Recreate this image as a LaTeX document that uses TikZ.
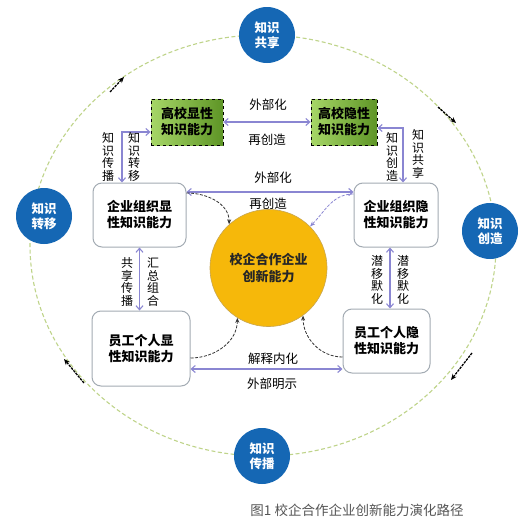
\documentclass[tikz,border=0pt]{standalone}
\usepackage{fontspec}
\setmainfont{Noto Sans CJK SC}
\usetikzlibrary{arrows.meta}
\definecolor{arrp}{HTML}{8A86D2}
\definecolor{boxgray}{HTML}{A3ABB3}
\definecolor{circblue}{HTML}{1567B4}
\definecolor{ellgreen}{HTML}{BFD48A}
\definecolor{coreorange}{HTML}{F6B80A}
\definecolor{coreedge}{HTML}{C8A650}
\definecolor{glight}{HTML}{A6D667}
\definecolor{gdark}{HTML}{5E9526}
\definecolor{capgray}{HTML}{555555}
\tikzset{
  rbox/.style={draw=boxgray, line width=1pt, rounded corners=9pt, fill=white, align=center,
    inner sep=0pt, font=\fontsize{13}{16}\selectfont\bfseries},
  gbox/.style={draw=black, dashed, line width=0.8pt, left color=glight, right color=gdark,
    align=center, inner sep=0pt, minimum width=70pt, minimum height=46pt,
    font=\fontsize{13}{16}\selectfont\bfseries},
  kcirc/.style={circle, fill=circblue, text=white, align=center, minimum size=56pt, inner sep=0pt,
    font=\fontsize{12.5}{15}\selectfont\bfseries},
  parr/.style={draw=arrp, line width=1.1pt, {Straight Barb[length=4pt,width=7pt]}-{Straight Barb[length=4pt,width=7pt]}},
  dcurve/.style={draw=black!80, line width=0.8pt, dash pattern=on 3pt off 1.5pt, -{Stealth[length=5pt,width=4pt]}},
  pcurve/.style={draw=arrp, line width=0.8pt, dash pattern=on 3pt off 1.5pt, -{Stealth[length=5pt,width=4pt]}},
  earr/.style={draw=black, line width=1.3pt, dash pattern=on 2.5pt off 1pt, -{Stealth[length=6pt,width=5pt]}},
  lbl/.style={font=\fontsize{12.5}{13}\selectfont, inner sep=0pt},
  vlbl/.style={font=\fontsize{12}{12.6}\selectfont, align=center, inner sep=0pt},
}
\begin{document}
\begin{tikzpicture}[x=1pt,y=-1pt]
\useasboundingbox[fill=white] (0,0) rectangle (531,522);

% big dashed ellipse
\draw[ellgreen, line width=1.1pt, dash pattern=on 4pt off 2.5pt] (263,245.5) ellipse [x radius=233, y radius=210.5];

% ellipse direction arrows
\coordinate (a1s) at (110,92);  \coordinate (a1e) at (124,77);
\coordinate (a2s) at (438,107); \coordinate (a2e) at (456,123);
\coordinate (a3s) at (472,353); \coordinate (a3e) at (451,380);
\coordinate (a4s) at (84,383);  \coordinate (a4e) at (64,359);
\draw[earr] (a1s) -- (a1e);
\draw[earr] (a2s) -- (a2e);
\draw[earr] (a3s) -- (a3e);
\draw[earr] (a4s) -- (a4e);

% small circles
\node[kcirc] (k1) at (267,35) {知识\\共享};
\node[kcirc] (k2) at (490,231) {知识\\创造};
\node[kcirc] (k3) at (262,456) {知识\\传播};
\node[kcirc] (k4) at (44,216) {知识\\转移};

% green boxes
\node[gbox, minimum width=72pt] (gx) at (187,122) {高校显性\\知识能力};
\node[gbox, minimum width=66pt] (gy) at (344,122) {高校隐性\\知识能力};

% rounded boxes
\node[rbox, minimum width=93pt, minimum height=64pt] (ex) at (139.5,215) {企业组织显\\性知识能力};
\node[rbox, minimum width=84pt, minimum height=64pt] (ey) at (396,215) {企业组织隐\\性知识能力};
\node[rbox, minimum width=98pt, minimum height=75pt] (px) at (141,348.5) {员工个人显\\性知识能力};
\node[rbox, minimum width=87pt, minimum height=64pt] (py) at (386.5,341) {员工个人隐\\性知识能力};

% core circle
\node[circle, fill=coreorange, draw=coreedge, line width=0.6pt, minimum size=117pt, inner sep=0pt,
  align=center, text=black!85, font=\fontsize{13}{17}\selectfont\bfseries] (cc) at (268.5,268) {校企合作企业\\创新能力};

% solid purple arrows
\draw[parr] (gx.east) -- (gy.west);
\draw[parr] ([yshift=-10pt]gx.west) -| ([xshift=-17.5pt]ex.north);
\draw[parr] ([yshift=-6pt]gy.east) -| ([xshift=7pt]ey.north);
\draw[parr] ([yshift=23pt]ex.east) -- ([yshift=23pt]ey.west);
\draw[parr] (ex.south) -- (ex.south |- px.north);
\draw[parr] ([xshift=-6pt]ey.south) -- ([xshift=-6pt]ey.south |- py.north);
\draw[parr] ([yshift=-20.5pt]px.east) -- ([yshift=-20.5pt]px.east -| py.west);

% dashed curves to core
\draw[dcurve] ([yshift=22pt]ex.east) to[out=0, in=90] (cc.132);
\draw[pcurve] ([yshift=21pt]ey.west) to[out=180, in=45] (cc.45);
\draw[dcurve] ([yshift=-9.5pt]px.east) to[out=0, in=-90] (cc.238);
\draw[dcurve] ([yshift=-16pt]py.west) to[out=180, in=-90] (cc.306);

% labels
\node[lbl] (l1) at (268,105) {外部化};
\node[lbl] (l2) at (267,140) {再创造};
\node[lbl] (l3) at (273,178) {外部化};
\node[lbl] (l4) at (268,204) {再创造};
\node[lbl] (l5) at (273,359) {解释内化};
\node[lbl] (l6) at (272,384) {外部明示};
\node[vlbl] (v1) at (108,157) {知\\识\\传\\播};
\node[vlbl] (v2) at (134,157) {知\\识\\转\\移};
\node[vlbl] (v3) at (392,157) {知\\识\\创\\造};
\node[vlbl] (v4) at (418,154) {知\\识\\共\\享};
\node[vlbl] (v5) at (127,282) {共\\享\\传\\播};
\node[vlbl] (v6) at (153,282) {汇\\总\\组\\合};
\node[vlbl] (v7) at (377,280) {潜\\移\\默\\化};
\node[vlbl] (v8) at (403,280) {潜\\移\\默\\化};

% caption
\node[text=capgray, font=\fontsize{13.5}{16}\selectfont, inner sep=0pt] (cap) at (357,510) {图1 校企合作企业创新能力演化路径};
\end{tikzpicture}
\end{document}
